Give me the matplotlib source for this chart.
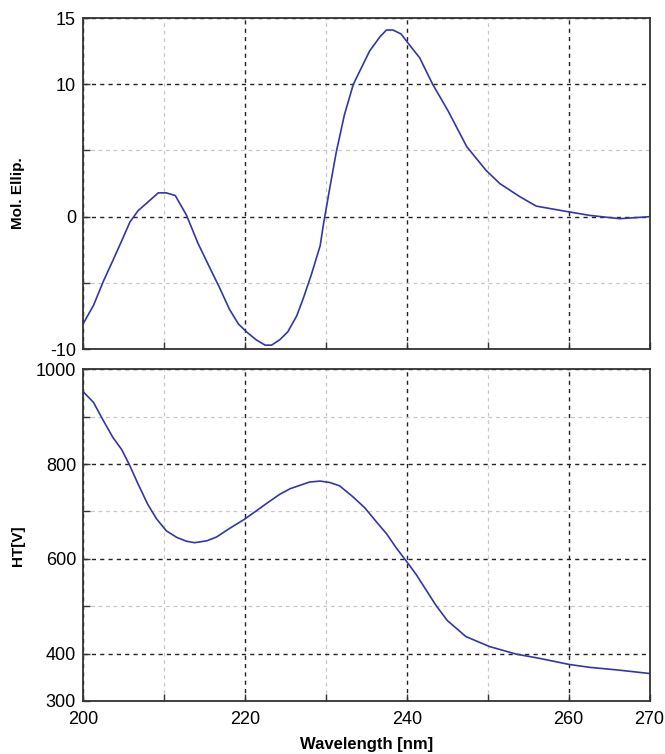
import matplotlib
matplotlib.use("Agg")
import matplotlib.pyplot as plt

plt.rcParams['font.family'] = ['Liberation Sans', 'DejaVu Sans']
plt.rcParams['axes.unicode_minus'] = False

# CD spectrum
wl_cd = [200, 201.3, 202.5, 203.7, 204.8, 205.8, 206.8, 208.1, 209.3, 210.3,
         211.4, 212.8, 214.2, 215.7, 216.9, 218.1, 219.2, 220.2, 221.4, 222.5,
         223.3, 224.3, 225.3, 226.4, 227.2, 228.2, 229.3, 229.7, 230.5, 231.3,
         232.3, 233.4, 234.2, 235.4, 236.7, 237.5, 238.3, 239.3, 240.3, 241.6,
         243.2, 245.1, 247.4, 249.8, 251.5, 254.0, 256.0, 259.7, 262.6, 266.3,
         270]
ellip = [-8.1, -6.7, -4.9, -3.3, -1.8, -0.4, 0.45, 1.15, 1.8, 1.8,
         1.6, 0.1, -2.0, -3.9, -5.4, -7.0, -8.1, -8.7, -9.3, -9.7,
         -9.7, -9.3, -8.7, -7.5, -6.2, -4.4, -2.2, -0.6, 2.2, 4.9,
         7.7, 10.0, 11.0, 12.5, 13.6, 14.1, 14.1, 13.8, 13.0, 12.0,
         10.0, 8.0, 5.3, 3.5, 2.5, 1.5, 0.8, 0.4, 0.1, -0.15,
         0.0]

# HT voltage
wl_ht = [200, 201.3, 202.5, 203.7, 204.8, 205.8, 206.8, 208.0, 209.1, 210.3,
         211.6, 212.8, 213.8, 215.3, 216.5, 218.1, 220.0, 222.7, 224.3, 225.6,
         226.8, 228.0, 229.3, 230.5, 231.7, 233.2, 234.8, 236.2, 237.5, 238.7,
         240.0, 241.2, 242.4, 243.6, 245.0, 247.3, 250.2, 253.5, 256.4, 260.1,
         262.6, 266.3, 270]
ht = [953, 930, 892, 856, 830, 796, 758, 715, 684, 659,
      645, 637, 634, 638, 646, 664, 684, 717, 736, 748,
      755, 762, 764, 761, 754, 733, 708, 679, 653, 623,
      594, 566, 534, 502, 470, 436, 415, 399, 390, 377,
      371, 365, 358]

line_color = '#3535a8'
edge = '#333333'

fig = plt.figure(figsize=(6.65, 7.54), dpi=100)
ax1 = fig.add_axes([0.1248, 0.537, 0.852, 0.439])
ax2 = fig.add_axes([0.1248, 0.0703, 0.852, 0.440])

ax1.plot(wl_cd, ellip, color=line_color, lw=1.2)
ax2.plot(wl_ht, ht, color=line_color, lw=1.2)

ax1.set_ylim(-10, 15)
ax1.set_yticks([-10, 0, 10, 15])
ax1.set_yticks([-5, 5], minor=True)
ax2.set_ylim(300, 1000)
ax2.set_yticks([300, 400, 600, 800, 1000])
ax2.set_yticks([500, 700, 900], minor=True)

for ax in (ax1, ax2):
    ax.set_xlim(200, 270)
    ax.set_xticks([200, 220, 240, 260, 270])
    ax.set_xticks([210, 230, 250], minor=True)
    ax.grid(True, which='major', color='#222222', linestyle=(0, (3, 3)), lw=1.0)
    ax.grid(True, which='minor', color='#c8c8c8', linestyle=(0, (3, 3)), lw=0.9)
    ax.tick_params(which='both', direction='in', length=5, width=1.0,
                   color=edge, labelsize=13, top=False, right=False)
    ax.tick_params(axis='x', pad=7)
    ax.tick_params(axis='y', pad=5)
    for s in ax.spines.values():
        s.set_color(edge)
        s.set_linewidth(1.3)

ax1.tick_params(labelbottom=False)
ax1.set_ylabel('Mol. Ellip.', fontsize=11, fontweight='bold')
ax1.yaxis.set_label_coords(-0.103, 0.471)
ax2.set_ylabel('HT[V]', fontsize=11, fontweight='bold')
ax2.yaxis.set_label_coords(-0.103, 0.467)
ax2.set_xlabel('Wavelength [nm]', fontsize=12, fontweight='bold', labelpad=7)

fig.savefig('out.png', dpi=100)
